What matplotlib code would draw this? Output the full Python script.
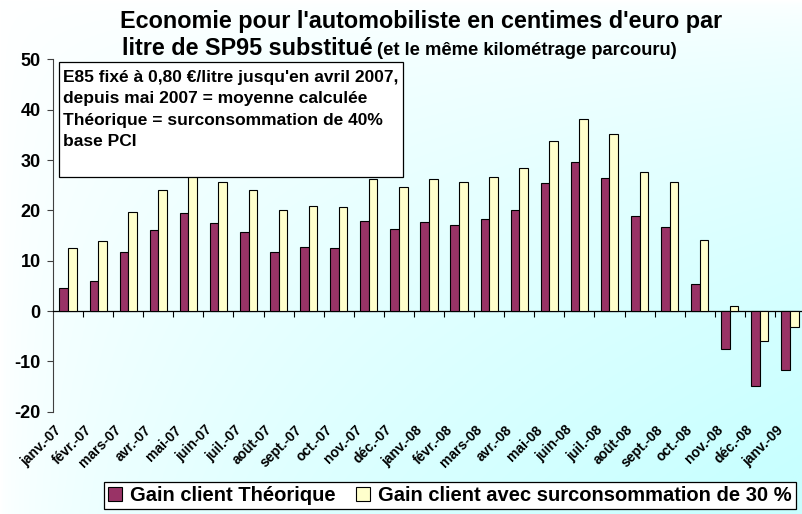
import numpy as np
import matplotlib
matplotlib.use("Agg")
import matplotlib.pyplot as plt
from matplotlib.patches import Rectangle, Patch

categories = ['janv.-07', 'févr.-07', 'mars-07', 'avr.-07', 'mai-07', 'juin-07',
              'juil.-07', 'août-07', 'sept.-07', 'oct.-07', 'nov.-07', 'déc.-07',
              'janv.-08', 'févr.-08', 'mars-08', 'avr.-08', 'mai-08', 'juin-08',
              'juil.-08', 'août-08', 'sept.-08', 'oct.-08', 'nov.-08', 'déc.-08',
              'janv.-09']
theorique = [4.5, 6.0, 11.7, 16.2, 19.5, 17.6, 15.8, 11.8, 12.7, 12.5, 18.0, 16.4,
             17.8, 17.2, 18.3, 20.1, 25.4, 29.6, 26.4, 18.9, 16.8, 5.3, -7.6, -14.8, -11.8]
surconso = [12.5, 14.0, 19.6, 24.1, 27.5, 25.6, 24.0, 20.0, 20.9, 20.6, 26.2, 24.7,
            26.2, 25.6, 26.7, 28.5, 33.9, 38.1, 35.1, 27.7, 25.6, 14.1, 1.1, -6.0, -3.2]
yticks = [-20, -10, 0, 10, 20, 30, 40, 50]
series_names = ['Gain client Théorique', 'Gain client avec surconsommation de 30 %']
note_lines = ["E85 fixé à 0,80 €/litre jusqu'en avril 2007,",
              "depuis mai 2007 = moyenne calculée",
              "Théorique = surconsommation de 40%",
              "base PCI"]

plt.rcParams['font.family'] = ['Liberation Sans', 'DejaVu Sans']

W, H = 802, 514
fig = plt.figure(figsize=(W / 100, H / 100), dpi=100)

def fx(px):
    return px / W

def fy(py):
    return 1 - py / H

# gradient background
bg = fig.add_axes([0, 0, 1, 1], zorder=-10)
gx, gy = np.meshgrid(np.linspace(0, 1, 300), np.linspace(0, 1, 200))
t = np.clip((gx * gy) ** 0.55 * 1.05, 0, 1)
img = np.ones((200, 300, 3))
img[..., 0] = 1 - t * (55 / 255)
bg.imshow(img, extent=[0, 1, 0, 1], origin='upper', aspect='auto')
bg.axis('off')

# main axes
left, right, top, bottom = 53, 805, 59.5, 411.7
ax = fig.add_axes([fx(left), fy(bottom), (right - left) / W, (bottom - top) / H])
ax.set_facecolor('none')

x = np.arange(len(categories))
w = 0.286
purple = '#993366'
yellow = '#FFFFCC'
ax.bar(x - w / 2, theorique, w, color=purple, edgecolor='black', linewidth=0.8, zorder=3)
ax.bar(x + w / 2, surconso, w, color=yellow, edgecolor='black', linewidth=0.8, zorder=3)

ax.set_xlim(-0.5, len(categories) - 0.5)
ax.set_ylim(-20, 50)
ax.set_yticks(yticks)
ax.set_yticklabels([str(v) for v in yticks], fontsize=13, fontweight='bold')
ax.tick_params(axis='y', length=4, width=0.8, pad=5, color='#404040')

for s in ['top', 'right']:
    ax.spines[s].set_visible(False)
ax.spines['left'].set_color('#404040')
ax.spines['left'].set_linewidth(0.8)
ax.spines['bottom'].set_position(('data', 0))
ax.spines['bottom'].set_color('black')
ax.spines['bottom'].set_linewidth(0.9)
ax.set_xticks([])
ax.set_xticks(np.arange(0.5, len(categories), 1.0), minor=True)
ax.tick_params(axis='x', which='minor', direction='out', length=4, width=0.8)

# category labels (rotated), placed below the plot area
lab_y = -16 / (bottom - top)
for xi, lab in zip(x, categories):
    ax.text(xi - 0.3, lab_y, lab, transform=ax.get_xaxis_transform(),
            rotation=45, ha='right', va='center', rotation_mode='anchor',
            fontsize=10, fontweight='bold', clip_on=False)

# title
fig.text(fx(421), fy(28), "Economie pour l'automobiliste en centimes d'euro par",
         ha='center', va='baseline', fontsize=16.8, fontweight='bold')
t1 = fig.text(fx(122), fy(55), "litre de SP95 substitué", ha='left', va='baseline',
              fontsize=16.8, fontweight='bold')
fig.canvas.draw()
ext = t1.get_window_extent(renderer=fig.canvas.get_renderer())
fig.text(ext.x1 / W + fx(4), fy(55), "(et le même kilométrage parcouru)",
         ha='left', va='baseline', fontsize=13.2, fontweight='bold')

# note box
box = Rectangle((fx(59), fy(177)), fx(403 - 59), (177 - 62) / H,
                transform=fig.transFigure, facecolor='white', edgecolor='black',
                linewidth=0.9, zorder=5)
fig.patches.append(box)
for i, line in enumerate(note_lines):
    fig.text(fx(63), fy(82 + 21.5 * i), line, ha='left', va='baseline',
             fontsize=12.5, fontweight='bold', zorder=6)

# legend
handles = [Patch(facecolor=purple, edgecolor='black', linewidth=0.8),
           Patch(facecolor=yellow, edgecolor='black', linewidth=0.8)]
leg = fig.legend(handles, series_names, loc='center',
                 bbox_to_anchor=(fx(450), fy(495.5)), ncol=2, frameon=True,
                 fancybox=False, edgecolor='black', framealpha=1, facecolor='white',
                 prop={'size': 14.5, 'weight': 'bold'}, handlelength=0.7,
                 handleheight=0.7, handletextpad=0.4, columnspacing=1.0,
                 borderpad=0.2, borderaxespad=0)
leg.get_frame().set_linewidth(0.9)

fig.savefig('out.png', dpi=100)
